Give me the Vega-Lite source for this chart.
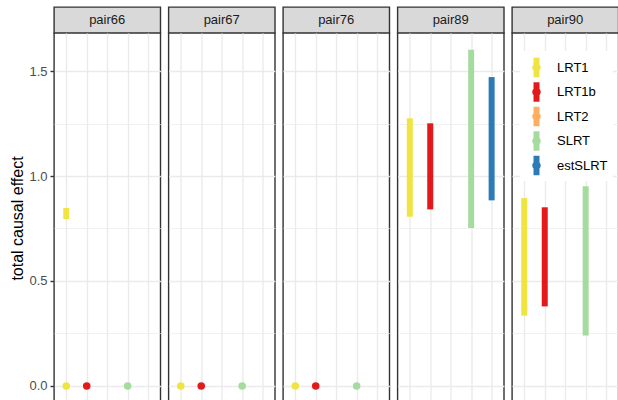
{
  "$schema": "https://vega.github.io/schema/vega-lite/v6.json",
  "background": "white",
  "padding": {"left": 9, "top": 6, "right": 0, "bottom": 0},
  "config": {
    "font": "Liberation Sans",
    "view": {"stroke": null}
  },
  "datasets": {
    "pairs": [
      {"pair": "pair66"},
      {"pair": "pair67"},
      {"pair": "pair76"},
      {"pair": "pair89"},
      {"pair": "pair90"}
    ],
    "effects": [
      {"pair": "pair66", "method": "LRT1", "lo": 0.795, "hi": 0.848},
      {"pair": "pair66", "method": "LRT1", "est": 0},
      {"pair": "pair66", "method": "LRT1b", "est": 0},
      {"pair": "pair66", "method": "SLRT", "est": 0},
      {"pair": "pair67", "method": "LRT1", "est": 0},
      {"pair": "pair67", "method": "LRT1b", "est": 0},
      {"pair": "pair67", "method": "SLRT", "est": 0},
      {"pair": "pair76", "method": "LRT1", "est": 0},
      {"pair": "pair76", "method": "LRT1b", "est": 0},
      {"pair": "pair76", "method": "SLRT", "est": 0},
      {"pair": "pair89", "method": "LRT1", "lo": 0.806, "hi": 1.275},
      {"pair": "pair89", "method": "LRT1b", "lo": 0.841, "hi": 1.251},
      {"pair": "pair89", "method": "SLRT", "lo": 0.752, "hi": 1.601},
      {"pair": "pair89", "method": "estSLRT", "lo": 0.884, "hi": 1.471},
      {"pair": "pair90", "method": "LRT1", "lo": 0.335, "hi": 0.895},
      {"pair": "pair90", "method": "LRT1b", "lo": 0.379, "hi": 0.851},
      {"pair": "pair90", "method": "SLRT", "lo": 0.240, "hi": 0.951}
    ]
  },
  "spacing": 5.5,
  "resolve": {
    "scale": {"x": "shared", "y": "shared", "color": "shared"},
    "legend": {"color": "shared"}
  },
  "hconcat": [
    {
      "spacing": 0,
      "bounds": "flush",
      "vconcat": [
        {
          "width": 106.4, "height": 26,
          "data": {"name": "pairs"},
          "transform": [{"filter": "datum.pair === 'pair66'"}],
          "view": {"fill": "#D9D9D9", "stroke": "#333333", "strokeWidth": 1.4},
          "mark": {"type": "text", "fontSize": 13, "color": "#1A1A1A", "baseline": "middle", "align": "center"},
          "encoding": {"text": {"field": "pair", "type": "nominal"}}
        },
        {
          "width": 106.4, "height": 370,
          "data": {"name": "effects"},
          "transform": [{"filter": "datum.pair === 'pair66'"}],
          "view": {"fill": "white", "stroke": "#333333", "strokeWidth": 1.4},
          "encoding": {
            "x": {
              "field": "method", "type": "nominal",
              "scale": {"type": "point", "domain": ["LRT1", "LRT1b", "LRT2", "SLRT", "estSLRT"], "padding": 0.6},
              "axis": {"title": null, "labels": false, "ticks": false, "domain": false, "grid": true, "gridColor": "#EBEBEB", "gridWidth": 1.4}
            },
            "color": {
              "field": "method", "type": "nominal",
              "scale": {
                "domain": ["LRT1", "LRT1b", "LRT2", "SLRT", "estSLRT"],
                "range": ["#F0E442", "#E31A1C", "#FDAE61", "#A6DBA0", "#2C7BB6"]
              },
              "legend": {
                "title": null,
                "orient": "none",
                "legendX": 466,
                "legendY": 44,
                "padding": 5,
                "fillColor": "white",
                "symbolType": "M-0.26,-0.85H0.26V0.85H-0.26Z M0.37,0A0.37,0.37 0 1 1 -0.37,0A0.37,0.37 0 1 1 0.37,0Z",
                "symbolSize": 529,
                "symbolStrokeWidth": 0,
                "symbolOpacity": 1,
                "labelFontSize": 13,
                "labelColor": "#000000",
                "labelOffset": 9,
                "rowPadding": 2.5
              }
            }
          },
          "layer": [
            {
              "transform": [{"filter": "isValid(datum.lo)"}],
              "mark": {"type": "bar", "size": 6, "opacity": 1},
              "encoding": {
                "y": {
                  "field": "lo", "type": "quantitative",
                  "scale": {"domain": [-0.081, 1.681], "nice": false, "zero": false},
                  "axis": {
                    "title": "total causal effect",
                    "titleFontSize": 16, "titleFontWeight": "normal", "titleColor": "#000000", "titlePadding": 3,
                    "values": [0, 0.25, 0.5, 0.75, 1, 1.25, 1.5],
                    "labelExpr": "datum.value % 0.5 === 0 ? format(datum.value, '.1f') : ''",
                    "labelFontSize": 13, "labelColor": "#4D4D4D", "labelPadding": 3,
                    "domain": false,
                    "tickColor": "#333333", "tickWidth": 1.4, "tickSize": 4,
                    "tickOpacity": {"condition": {"test": "datum.value % 0.5 !== 0", "value": 0}, "value": 1},
                    "grid": true, "gridColor": "#EBEBEB",
                    "gridWidth": {"condition": {"test": "datum.value % 0.5 !== 0", "value": 0.7}, "value": 1.4}
                  }
                },
                "y2": {"field": "hi"}
              }
            },
            {
              "transform": [{"filter": "isValid(datum.est)"}],
              "mark": {"type": "circle", "size": 57, "opacity": 1},
              "encoding": {"y": {"field": "est", "type": "quantitative", "scale": {"domain": [-0.081, 1.681], "nice": false, "zero": false}}}
            }
          ]
        }
      ]
    },
    {
      "spacing": 0,
      "bounds": "flush",
      "vconcat": [
        {
          "width": 106.4, "height": 26,
          "data": {"name": "pairs"},
          "transform": [{"filter": "datum.pair === 'pair67'"}],
          "view": {"fill": "#D9D9D9", "stroke": "#333333", "strokeWidth": 1.4},
          "mark": {"type": "text", "fontSize": 13, "color": "#1A1A1A", "baseline": "middle", "align": "center"},
          "encoding": {"text": {"field": "pair", "type": "nominal"}}
        },
        {
          "width": 106.4, "height": 370,
          "data": {"name": "effects"},
          "transform": [{"filter": "datum.pair === 'pair67'"}],
          "view": {"fill": "white", "stroke": "#333333", "strokeWidth": 1.4},
          "encoding": {
            "x": {
              "field": "method", "type": "nominal",
              "scale": {"type": "point", "domain": ["LRT1", "LRT1b", "LRT2", "SLRT", "estSLRT"], "padding": 0.6},
              "axis": {"title": null, "labels": false, "ticks": false, "domain": false, "grid": true, "gridColor": "#EBEBEB", "gridWidth": 1.4}
            },
            "color": {"field": "method", "type": "nominal"}
          },
          "layer": [
            {
              "transform": [{"filter": "isValid(datum.lo)"}],
              "mark": {"type": "bar", "size": 6, "opacity": 1},
              "encoding": {
                "y": {
                  "field": "lo", "type": "quantitative",
                  "scale": {"domain": [-0.081, 1.681], "nice": false, "zero": false},
                  "axis": {
                    "title": null, "labels": false, "ticks": false, "domain": false,
                    "values": [0, 0.25, 0.5, 0.75, 1, 1.25, 1.5],
                    "grid": true, "gridColor": "#EBEBEB",
                    "gridWidth": {"condition": {"test": "datum.value % 0.5 !== 0", "value": 0.7}, "value": 1.4}
                  }
                },
                "y2": {"field": "hi"}
              }
            },
            {
              "transform": [{"filter": "isValid(datum.est)"}],
              "mark": {"type": "circle", "size": 57, "opacity": 1},
              "encoding": {"y": {"field": "est", "type": "quantitative", "scale": {"domain": [-0.081, 1.681], "nice": false, "zero": false}}}
            }
          ]
        }
      ]
    },
    {
      "spacing": 0,
      "bounds": "flush",
      "vconcat": [
        {
          "width": 106.4, "height": 26,
          "data": {"name": "pairs"},
          "transform": [{"filter": "datum.pair === 'pair76'"}],
          "view": {"fill": "#D9D9D9", "stroke": "#333333", "strokeWidth": 1.4},
          "mark": {"type": "text", "fontSize": 13, "color": "#1A1A1A", "baseline": "middle", "align": "center"},
          "encoding": {"text": {"field": "pair", "type": "nominal"}}
        },
        {
          "width": 106.4, "height": 370,
          "data": {"name": "effects"},
          "transform": [{"filter": "datum.pair === 'pair76'"}],
          "view": {"fill": "white", "stroke": "#333333", "strokeWidth": 1.4},
          "encoding": {
            "x": {
              "field": "method", "type": "nominal",
              "scale": {"type": "point", "domain": ["LRT1", "LRT1b", "LRT2", "SLRT", "estSLRT"], "padding": 0.6},
              "axis": {"title": null, "labels": false, "ticks": false, "domain": false, "grid": true, "gridColor": "#EBEBEB", "gridWidth": 1.4}
            },
            "color": {"field": "method", "type": "nominal"}
          },
          "layer": [
            {
              "transform": [{"filter": "isValid(datum.lo)"}],
              "mark": {"type": "bar", "size": 6, "opacity": 1},
              "encoding": {
                "y": {
                  "field": "lo", "type": "quantitative",
                  "scale": {"domain": [-0.081, 1.681], "nice": false, "zero": false},
                  "axis": {
                    "title": null, "labels": false, "ticks": false, "domain": false,
                    "values": [0, 0.25, 0.5, 0.75, 1, 1.25, 1.5],
                    "grid": true, "gridColor": "#EBEBEB",
                    "gridWidth": {"condition": {"test": "datum.value % 0.5 !== 0", "value": 0.7}, "value": 1.4}
                  }
                },
                "y2": {"field": "hi"}
              }
            },
            {
              "transform": [{"filter": "isValid(datum.est)"}],
              "mark": {"type": "circle", "size": 57, "opacity": 1},
              "encoding": {"y": {"field": "est", "type": "quantitative", "scale": {"domain": [-0.081, 1.681], "nice": false, "zero": false}}}
            }
          ]
        }
      ]
    },
    {
      "spacing": 0,
      "bounds": "flush",
      "vconcat": [
        {
          "width": 106.4, "height": 26,
          "data": {"name": "pairs"},
          "transform": [{"filter": "datum.pair === 'pair89'"}],
          "view": {"fill": "#D9D9D9", "stroke": "#333333", "strokeWidth": 1.4},
          "mark": {"type": "text", "fontSize": 13, "color": "#1A1A1A", "baseline": "middle", "align": "center"},
          "encoding": {"text": {"field": "pair", "type": "nominal"}}
        },
        {
          "width": 106.4, "height": 370,
          "data": {"name": "effects"},
          "transform": [{"filter": "datum.pair === 'pair89'"}],
          "view": {"fill": "white", "stroke": "#333333", "strokeWidth": 1.4},
          "encoding": {
            "x": {
              "field": "method", "type": "nominal",
              "scale": {"type": "point", "domain": ["LRT1", "LRT1b", "LRT2", "SLRT", "estSLRT"], "padding": 0.6},
              "axis": {"title": null, "labels": false, "ticks": false, "domain": false, "grid": true, "gridColor": "#EBEBEB", "gridWidth": 1.4}
            },
            "color": {"field": "method", "type": "nominal"}
          },
          "layer": [
            {
              "transform": [{"filter": "isValid(datum.lo)"}],
              "mark": {"type": "bar", "size": 6, "opacity": 1},
              "encoding": {
                "y": {
                  "field": "lo", "type": "quantitative",
                  "scale": {"domain": [-0.081, 1.681], "nice": false, "zero": false},
                  "axis": {
                    "title": null, "labels": false, "ticks": false, "domain": false,
                    "values": [0, 0.25, 0.5, 0.75, 1, 1.25, 1.5],
                    "grid": true, "gridColor": "#EBEBEB",
                    "gridWidth": {"condition": {"test": "datum.value % 0.5 !== 0", "value": 0.7}, "value": 1.4}
                  }
                },
                "y2": {"field": "hi"}
              }
            },
            {
              "transform": [{"filter": "isValid(datum.est)"}],
              "mark": {"type": "circle", "size": 57, "opacity": 1},
              "encoding": {"y": {"field": "est", "type": "quantitative", "scale": {"domain": [-0.081, 1.681], "nice": false, "zero": false}}}
            }
          ]
        }
      ]
    },
    {
      "spacing": 0,
      "bounds": "flush",
      "vconcat": [
        {
          "width": 106.4, "height": 26,
          "data": {"name": "pairs"},
          "transform": [{"filter": "datum.pair === 'pair90'"}],
          "view": {"fill": "#D9D9D9", "stroke": "#333333", "strokeWidth": 1.4},
          "mark": {"type": "text", "fontSize": 13, "color": "#1A1A1A", "baseline": "middle", "align": "center"},
          "encoding": {"text": {"field": "pair", "type": "nominal"}}
        },
        {
          "width": 106.4, "height": 370,
          "data": {"name": "effects"},
          "transform": [{"filter": "datum.pair === 'pair90'"}],
          "view": {"fill": "white", "stroke": "#333333", "strokeWidth": 1.4},
          "encoding": {
            "x": {
              "field": "method", "type": "nominal",
              "scale": {"type": "point", "domain": ["LRT1", "LRT1b", "LRT2", "SLRT", "estSLRT"], "padding": 0.6},
              "axis": {"title": null, "labels": false, "ticks": false, "domain": false, "grid": true, "gridColor": "#EBEBEB", "gridWidth": 1.4}
            },
            "color": {"field": "method", "type": "nominal"}
          },
          "layer": [
            {
              "transform": [{"filter": "isValid(datum.lo)"}],
              "mark": {"type": "bar", "size": 6, "opacity": 1},
              "encoding": {
                "y": {
                  "field": "lo", "type": "quantitative",
                  "scale": {"domain": [-0.081, 1.681], "nice": false, "zero": false},
                  "axis": {
                    "title": null, "labels": false, "ticks": false, "domain": false,
                    "values": [0, 0.25, 0.5, 0.75, 1, 1.25, 1.5],
                    "grid": true, "gridColor": "#EBEBEB",
                    "gridWidth": {"condition": {"test": "datum.value % 0.5 !== 0", "value": 0.7}, "value": 1.4}
                  }
                },
                "y2": {"field": "hi"}
              }
            },
            {
              "transform": [{"filter": "isValid(datum.est)"}],
              "mark": {"type": "circle", "size": 57, "opacity": 1},
              "encoding": {"y": {"field": "est", "type": "quantitative", "scale": {"domain": [-0.081, 1.681], "nice": false, "zero": false}}}
            }
          ]
        }
      ]
    }
  ]
}
